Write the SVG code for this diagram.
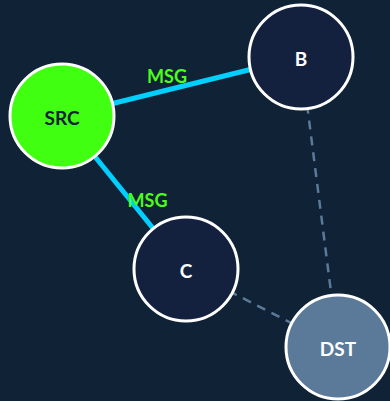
<svg xmlns="http://www.w3.org/2000/svg" width="390" height="401" viewBox="0 0 390 401">
  <style>
    .bg { fill: #0f2236; }
    .node { stroke: #ffffff; stroke-width: 3; }
    .plain { fill: #13213f; }
    .src { fill: #40ff10; }
    .dst { fill: #5b7a99; }
    .label { font-family: Lato, "Open Sans", sans-serif; font-weight: bold; font-size: 19px; text-anchor: middle; fill: #ffffff; }
    .dark { fill: #0f2236; }
    .msg { font-family: Lato, "Open Sans", sans-serif; font-weight: bold; font-size: 18px; text-anchor: middle; fill: #4cff1a; }
    .active { stroke: #00cfff; stroke-width: 5; fill: none; }
    .idle { stroke: #5b7a99; stroke-width: 2.5; stroke-dasharray: 9 7; fill: none; }
  </style>
  <rect class="bg" x="0" y="0" width="390" height="401"/>

  <g id="connectors">
    <line class="active" x1="62" y1="116" x2="301" y2="57"/>
    <line class="active" x1="62" y1="116" x2="186" y2="269"/>
    <line class="idle" x1="301" y1="57" x2="338" y2="347"/>
    <line class="idle" x1="186" y1="269" x2="338" y2="347"/>
    <text class="msg" x="167" y="83">MSG</text>
    <text class="msg" x="147.5" y="207">MSG</text>
  </g>

  <g id="node-src">
    <circle class="node src" cx="62" cy="116" r="52"/>
    <text class="label dark" x="62" y="125">SRC</text>
  </g>
  <g id="node-b">
    <circle class="node plain" cx="301" cy="57" r="52"/>
    <text class="label" x="301" y="66">B</text>
  </g>
  <g id="node-c">
    <circle class="node plain" cx="186" cy="269" r="52"/>
    <text class="label" x="186" y="278">C</text>
  </g>
  <g id="node-dst">
    <circle class="node dst" cx="338" cy="347" r="52"/>
    <text class="label" x="338" y="356">DST</text>
  </g>
</svg>
